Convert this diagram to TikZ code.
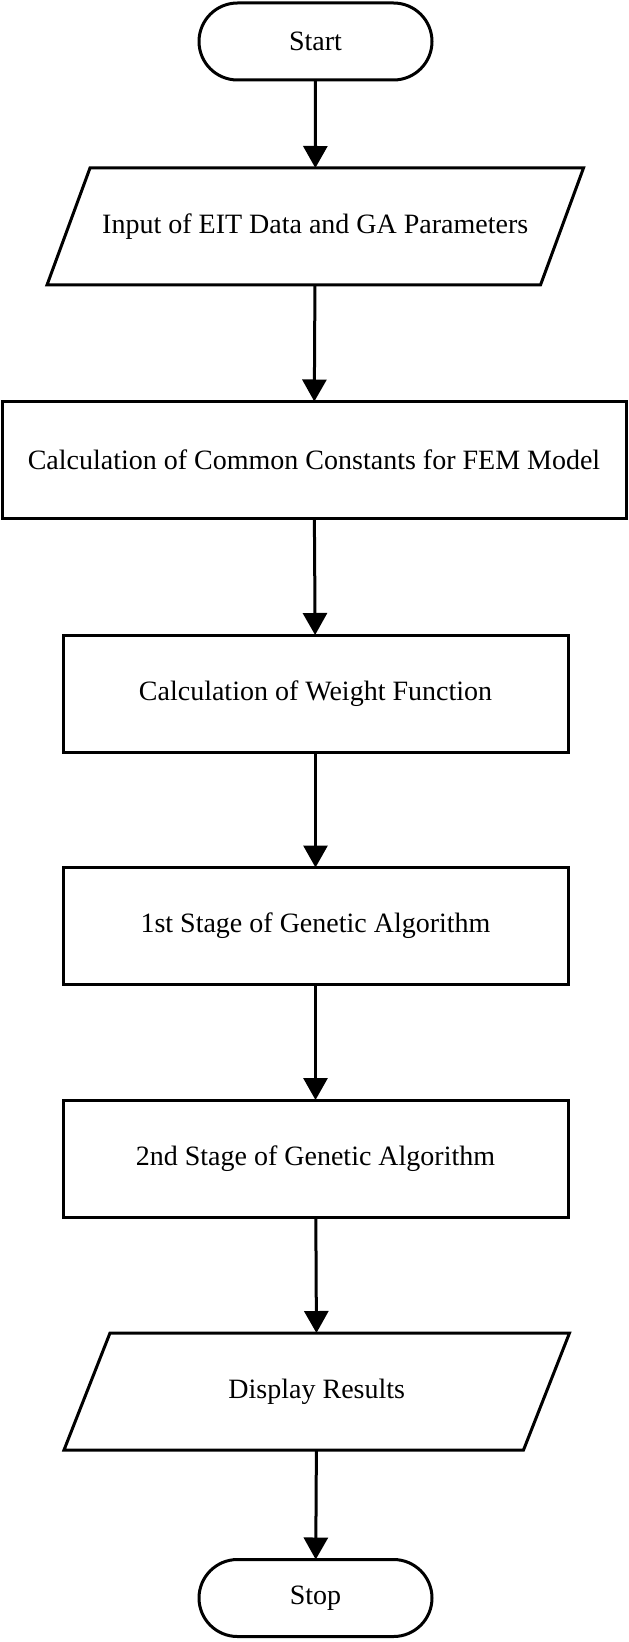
\documentclass[tikz,border=0pt]{standalone}
\usepackage{fontspec}
\setmainfont{Liberation Serif}
\usetikzlibrary{arrows.meta}
\begin{document}
\begin{tikzpicture}[x=0.5pt,y=-0.5pt,
  every node/.style={font=\fontsize{14}{16}\selectfont, inner sep=0pt, outer sep=0pt, line width=1.5pt},
  terminal/.style={draw, rectangle, rounded corners=19.25pt, minimum width=116.5pt, minimum height=38.5pt},
  process/.style={draw, rectangle, minimum width=252.5pt, minimum height=58.5pt},
  io/.style={rectangle, minimum height=58.5pt},
  slant/.style={line width=1.5pt, line join=miter},
  flow/.style={line width=1.5pt, -{Triangle[width=12pt,length=11pt]}}]
  \useasboundingbox (0,0) rectangle (628,1642);
  \node[terminal] (start) at (315.5,41.5) {Start};
  \node[io, minimum width=246.75pt] (input) at (315.25,226.5) {Input of EIT Data and GA Parameters};
  \node[process, minimum width=312pt] (fem) at (314,460) {Calculation of Common Constants for FEM Model};
  \node[process] (weight) at (315.5,693.5) {Calculation of Weight Function};
  \node[process] (ga1) at (315.5,926) {1st Stage of Genetic Algorithm};
  \node[process] (ga2) at (315.5,1158.5) {2nd Stage of Genetic Algorithm};
  \node[io, minimum width=229.75pt] (display) at (316.75,1391.5) {Display Results};
  \node[terminal] (stop) at (315.5,1598) {Stop};
  % parallelogram outlines of the input/output nodes
  \draw[slant] ([xshift=10.75pt]input.north west) -- ([xshift=10.75pt]input.north east)
    -- ([xshift=-10.75pt]input.south east) -- ([xshift=-10.75pt]input.south west) -- cycle;
  \draw[slant] ([xshift=11.5pt]display.north west) -- ([xshift=11.5pt]display.north east)
    -- ([xshift=-11.5pt]display.south east) -- ([xshift=-11.5pt]display.south west) -- cycle;
  \draw[flow] (start) -- (input);
  \draw[flow] (input) -- (fem);
  \draw[flow] (fem) -- (weight);
  \draw[flow] (weight) -- (ga1);
  \draw[flow] (ga1) -- (ga2);
  \draw[flow] (ga2) -- (display);
  \draw[flow] (display) -- (stop);
\end{tikzpicture}
\end{document}
